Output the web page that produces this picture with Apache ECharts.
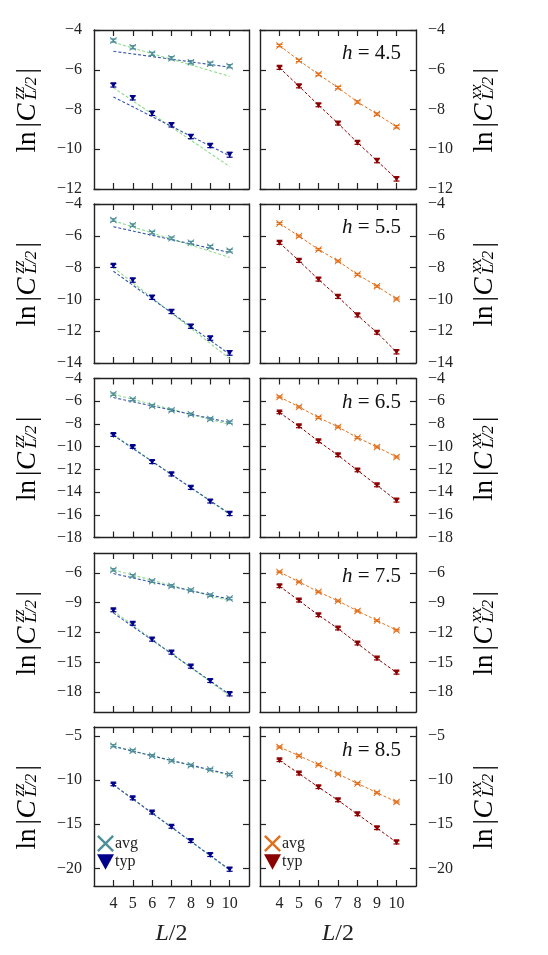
<!DOCTYPE html>
<html>
<head>
<meta charset="utf-8">
<script src="https://cdn.jsdelivr.net/npm/echarts@6/dist/echarts.min.js"></script>
<style>
  html, body { margin: 0; padding: 0; background: #fff; }
  #chart { width: 548px; height: 955px; }
</style>
</head>
<body>
<div id="chart"></div>
<script>
// system sizes L/2 and field strengths h
const L = [4, 5, 6, 7, 8, 9, 10];
const hVals = ['4.5', '5.5', '6.5', '7.5', '8.5'];

// ln|C^zz_{L/2}|, one row per h
const zzAvg = [
  [-4.53, -4.87, -5.20, -5.42, -5.62, -5.70, -5.82],
  [-5.01, -5.33, -5.80, -6.16, -6.43, -6.69, -6.94],
  [-5.38, -5.85, -6.41, -6.79, -7.15, -7.56, -7.85],
  [-5.70, -6.30, -6.84, -7.31, -7.74, -8.25, -8.58],
  [-6.12, -6.69, -7.25, -7.81, -8.33, -8.82, -9.38]
];
const zzTyp = [
  [-6.78, -7.42, -8.20, -8.78, -9.37, -9.82, -10.28],
  [-7.89, -8.80, -9.88, -10.77, -11.70, -12.45, -13.37],
  [-8.97, -10.03, -11.35, -12.44, -13.62, -14.82, -15.91],
  [-9.77, -11.11, -12.71, -14.02, -15.43, -16.87, -18.20],
  [-10.51, -12.08, -13.69, -15.30, -16.91, -18.48, -20.13]
];
const zzAvgErr = [
  [0.08, 0.08, 0.08, 0.08, 0.08, 0.08, 0.08],
  [0.08, 0.08, 0.08, 0.08, 0.08, 0.08, 0.08],
  [0.1, 0.1, 0.1, 0.1, 0.1, 0.1, 0.1],
  [0.12, 0.12, 0.12, 0.12, 0.12, 0.12, 0.12],
  [0.12, 0.12, 0.12, 0.12, 0.12, 0.12, 0.12]
];
const zzTypErr = [
  [0.09, 0.1, 0.1, 0.1, 0.1, 0.1, 0.12],
  [0.1, 0.12, 0.12, 0.12, 0.12, 0.12, 0.14],
  [0.12, 0.12, 0.14, 0.14, 0.14, 0.14, 0.16],
  [0.14, 0.16, 0.16, 0.16, 0.16, 0.16, 0.18],
  [0.14, 0.16, 0.16, 0.16, 0.16, 0.18, 0.2]
];
// straight fits, value at L/2 = 4 and L/2 = 10
const fitX = [4, 10];
const zzAvgFitG = [[-4.62, -6.33], [-5.05, -7.36], [-5.38, -8.06], [-5.70, -8.82], [-6.12, -9.49]];
const zzAvgFitB = [[-5.07, -5.87], [-5.43, -7.05], [-5.68, -7.88], [-6.07, -8.65], [-6.20, -9.38]];
const zzTypFitG = [[-6.90, -10.87], [-7.99, -13.73], [-8.93, -15.98], [-9.83, -18.38], [-10.50, -20.20]];
const zzTypFitB = [[-7.37, -10.33], [-8.23, -13.45], [-9.00, -15.91], [-10.03, -18.25], [-10.55, -20.15]];

// ln|C^xx_{L/2}|
const xxAvg = [
  [-4.78, -5.53, -6.23, -6.90, -7.62, -8.23, -8.87],
  [-5.22, -6.02, -6.86, -7.59, -8.43, -9.17, -9.97],
  [-5.62, -6.50, -7.44, -8.26, -9.21, -10.03, -10.91],
  [-5.90, -6.91, -7.91, -8.82, -9.83, -10.80, -11.77],
  [-6.27, -7.25, -8.26, -9.31, -10.39, -11.44, -12.49]
];
const xxTyp = [
  [-5.90, -6.83, -7.78, -8.70, -9.67, -10.58, -11.50],
  [-6.44, -7.57, -8.75, -9.84, -11.00, -12.09, -13.31],
  [-7.00, -8.21, -9.53, -10.76, -12.09, -13.41, -14.74],
  [-7.34, -8.79, -10.26, -11.60, -13.11, -14.62, -16.03],
  [-7.77, -9.27, -10.81, -12.30, -13.88, -15.45, -17.06]
];
const xxAvgErr = [
  [0.06, 0.06, 0.06, 0.06, 0.06, 0.06, 0.06],
  [0.06, 0.06, 0.06, 0.06, 0.06, 0.06, 0.06],
  [0.08, 0.08, 0.08, 0.08, 0.08, 0.08, 0.08],
  [0.08, 0.08, 0.08, 0.08, 0.08, 0.08, 0.08],
  [0.1, 0.1, 0.1, 0.1, 0.1, 0.1, 0.1]
];
const xxTypErr = [
  [0.08, 0.08, 0.08, 0.08, 0.08, 0.1, 0.1],
  [0.1, 0.1, 0.1, 0.1, 0.1, 0.1, 0.12],
  [0.1, 0.12, 0.12, 0.12, 0.12, 0.12, 0.14],
  [0.14, 0.14, 0.14, 0.14, 0.14, 0.14, 0.16],
  [0.14, 0.16, 0.16, 0.16, 0.16, 0.16, 0.18]
];

// axis ranges and tick labels per row
const xTicks = [4, 5, 6, 7, 8, 9, 10];
const yMin = [-12, -14, -18, -20, -22];
const yMax = [-4, -4, -4, -4, -4];
const yTicks = [
  [-12, -10, -8, -6, -4],
  [-14, -12, -10, -8, -6, -4],
  [-18, -16, -14, -12, -10, -8, -6, -4],
  [-18, -15, -12, -9, -6],
  [-20, -15, -10, -5]
];

const FONT = '"Liberation Serif", "DejaVu Serif", serif';
const C_TEAL = '#4f8f97', C_NAVY = '#00008b';
const C_ORANGE = '#e0701c', C_RED = '#8b0000';
const C_FITG = '#8fdc8f', C_FITB = '#3556a8';
const X_SYM = 'path://M0,1 L1,0 L5,4 L9,0 L10,1 L6,5 L10,9 L9,10 L5,6 L1,10 L0,9 L4,5 Z';
const TRI_SYM = 'path://M0,0 L10,0 L5,9 Z';

const rowTop = [30, 204, 378.5, 553, 727];
const panelH = 159;
const colLeft = [94, 260];
const colW = [155, 156];

const minus = v => (v < 0 ? '\u2212' + (-v) : '' + v);
const pts = (xs, ys) => xs.map((x, i) => [x, ys[i]]);
const errPts = (ys, es) => L.map((x, i) => [x, ys[i], es[i]]);

function errSeries(ax, data, color) {
  return {
    type: 'custom', xAxisIndex: ax, yAxisIndex: ax, z: 3, silent: true,
    data: data,
    renderItem: function (params, api) {
      const x = api.value(0), y = api.value(1), e = api.value(2);
      const t = api.coord([x, y + e]), b = api.coord([x, y - e]);
      const st = { stroke: color, lineWidth: 1.2 };
      return { type: 'group', children: [
        { type: 'line', shape: { x1: t[0], y1: t[1], x2: b[0], y2: b[1] }, style: st },
        { type: 'line', shape: { x1: t[0] - 3, y1: t[1], x2: t[0] + 3, y2: t[1] }, style: st },
        { type: 'line', shape: { x1: b[0] - 3, y1: b[1], x2: b[0] + 3, y2: b[1] }, style: st }
      ] };
    }
  };
}
function fitSeries(ax, ys, color) {
  return {
    type: 'line', name: 'fit', xAxisIndex: ax, yAxisIndex: ax, z: 2, silent: true,
    data: pts(fitX, ys), symbol: 'none',
    lineStyle: { color: color, width: 1.1, type: [3, 2] }
  };
}

const grid = [], xAxis = [], yAxis = [], series = [], title = [], graphic = [];

function yName(cx, cy, sup) {
  const big = '27px ' + FONT, bigI = 'italic 27px ' + FONT, small = 'italic 17px ' + FONT;
  const base = { fill: '#000', textVerticalAlign: 'middle' };
  return {
    type: 'group', x: cx, y: cy, rotation: Math.PI / 2, silent: true,
    children: [
      { type: 'text', x: -43, y: 0, style: Object.assign({ text: 'ln', font: big }, base) },
      { type: 'text', x: -18, y: 0, style: Object.assign({ text: '|', font: big }, base) },
      { type: 'text', x: -12, y: 0, style: Object.assign({ text: 'C', font: bigI }, base) },
      { type: 'text', x: 10, y: -8, style: Object.assign({ text: sup, font: small }, base) },
      { type: 'text', x: 10, y: 4, style: Object.assign({ text: 'L/2', font: small }, base) },
      { type: 'text', x: 36, y: 0, style: Object.assign({ text: '|', font: big }, base) }
    ]
  };
}

for (let r = 0; r < 5; r++) {
  for (let c = 0; c < 2; c++) {
    const g = r * 2 + c;
    grid.push({ left: colLeft[c], top: rowTop[r], width: colW[c], height: panelH });
    const line = { show: true, lineStyle: { color: '#222', width: 1.4 } };
    const tick = { show: true, inside: true, length: 6, lineStyle: { color: '#222', width: 1.2 } };
    const bottomRow = r === 4;
    xAxis.push({
      type: 'value', gridIndex: g, position: 'bottom', min: 3, max: 11,
      axisLine: line, splitLine: { show: false },
      axisTick: Object.assign({ customValues: xTicks }, tick),
      axisLabel: { show: bottomRow, customValues: xTicks, margin: 10, color: '#222', fontSize: 16, fontFamily: FONT },
      name: bottomRow ? '{i|L}/2' : '', nameLocation: 'middle', nameGap: 36,
      nameTextStyle: { fontSize: 24, fontFamily: FONT, color: '#222',
        rich: { i: { fontStyle: 'italic', fontSize: 24, fontFamily: FONT, color: '#222' } } }
    });
    xAxis.push({
      type: 'value', gridIndex: g, position: 'top', min: 3, max: 11,
      axisLine: line, splitLine: { show: false },
      axisTick: Object.assign({ customValues: xTicks }, tick),
      axisLabel: { show: false, customValues: xTicks }
    });
    const lab = { customValues: yTicks[r], margin: 12, color: '#222', fontSize: 16, fontFamily: FONT, formatter: minus };
    yAxis.push({
      type: 'value', gridIndex: g, position: 'left', min: yMin[r], max: yMax[r],
      axisLine: line, splitLine: { show: false },
      axisTick: Object.assign({ customValues: yTicks[r] }, tick),
      axisLabel: Object.assign({ show: c === 0 }, lab)
    });
    yAxis.push({
      type: 'value', gridIndex: g, position: 'right', min: yMin[r], max: yMax[r],
      axisLine: line, splitLine: { show: false },
      axisTick: Object.assign({ customValues: yTicks[r] }, tick),
      axisLabel: Object.assign({ show: c === 1 }, lab)
    });

    const ax = 2 * g;
    if (c === 0) {
      series.push(fitSeries(ax, zzAvgFitG[r], C_FITG));
      series.push(fitSeries(ax, zzTypFitG[r], C_FITG));
      series.push(fitSeries(ax, zzAvgFitB[r], C_FITB));
      series.push(fitSeries(ax, zzTypFitB[r], C_FITB));
      series.push(errSeries(ax, errPts(zzAvg[r], zzAvgErr[r]), C_TEAL));
      series.push(errSeries(ax, errPts(zzTyp[r], zzTypErr[r]), C_NAVY));
      series.push({
        type: 'scatter', name: 'avg', xAxisIndex: ax, yAxisIndex: ax, z: 4,
        data: pts(L, zzAvg[r]), symbol: X_SYM, symbolSize: 7,
        itemStyle: { color: C_TEAL, opacity: 1 }
      });
      series.push({
        type: 'scatter', name: 'typ', xAxisIndex: ax, yAxisIndex: ax, z: 4,
        data: pts(L, zzTyp[r]), symbol: TRI_SYM, symbolSize: 6,
        itemStyle: { color: C_NAVY, opacity: 1 }
      });
    } else {
      series.push(errSeries(ax, errPts(xxAvg[r], xxAvgErr[r]), C_ORANGE));
      series.push(errSeries(ax, errPts(xxTyp[r], xxTypErr[r]), C_RED));
      series.push({
        type: 'line', name: 'avg_xx', xAxisIndex: ax, yAxisIndex: ax, z: 4,
        data: pts(L, xxAvg[r]), symbol: X_SYM, symbolSize: 7, showAllSymbol: true,
        itemStyle: { color: C_ORANGE }, lineStyle: { color: C_ORANGE, width: 1, type: [3, 2] }
      });
      series.push({
        type: 'line', name: 'typ_xx', xAxisIndex: ax, yAxisIndex: ax, z: 4,
        data: pts(L, xxTyp[r]), symbol: TRI_SYM, symbolSize: 6, showAllSymbol: true,
        itemStyle: { color: C_RED }, lineStyle: { color: C_RED, width: 1, type: [3, 2] }
      });
    }
  }
  title.push({
    text: '{i|h} = ' + hVals[r], right: 147, top: rowTop[r] + 13, padding: 0,
    textStyle: { fontSize: 21, fontWeight: 'normal', fontFamily: FONT, color: '#111',
      rich: { i: { fontStyle: 'italic', fontSize: 21, fontFamily: FONT, color: '#111' } } }
  });
  graphic.push(yName(28, rowTop[r] + 79.5, 'zz'));
  graphic.push(yName(485, rowTop[r] + 79.5, 'xx'));
}

const legendBase = {
  orient: 'vertical', itemWidth: 17, itemHeight: 17, itemGap: 2, padding: 0,
  selectedMode: false,
  textStyle: { fontSize: 16, fontFamily: FONT, color: '#222', padding: [0, 0, 0, -4] },
  formatter: name => name.split('_')[0]
};
const legend = [
  Object.assign({ left: 97, top: 835, data: [
    { name: 'avg', icon: X_SYM, itemStyle: { color: C_TEAL, opacity: 1 } },
    { name: 'typ', icon: TRI_SYM, itemStyle: { color: C_NAVY, opacity: 1 } }
  ] }, legendBase),
  Object.assign({ left: 264, top: 835, data: [
    { name: 'avg_xx', icon: X_SYM, itemStyle: { color: C_ORANGE, opacity: 1 } },
    { name: 'typ_xx', icon: TRI_SYM, itemStyle: { color: C_RED, opacity: 1 } }
  ] }, legendBase)
];

const chart = echarts.init(document.getElementById('chart'));
chart.setOption({
  animation: false,
  backgroundColor: '#fff',
  title: title,
  legend: legend,
  grid: grid,
  xAxis: xAxis,
  yAxis: yAxis,
  series: series,
  graphic: graphic
});
</script>
</body>
</html>
